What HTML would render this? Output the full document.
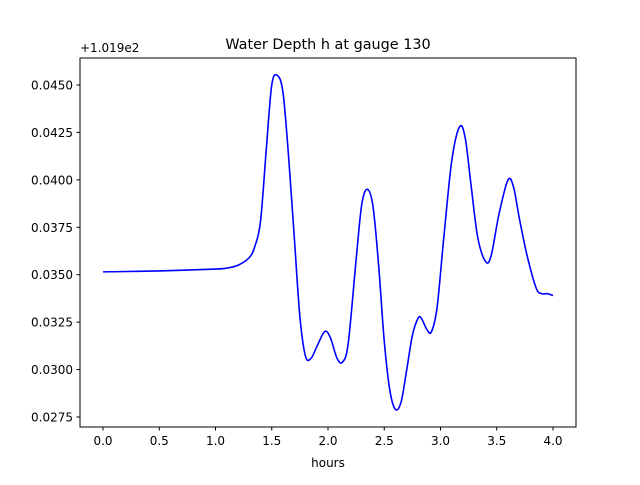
<!DOCTYPE html>
<html><head><meta charset="utf-8"><style>
body{margin:0;background:#fff;font-family:"Liberation Sans","DejaVu Sans",sans-serif;}
svg text{font-family:"DejaVu Sans","Liberation Sans",sans-serif;}
</style></head><body>
<svg id="chart" width="640" height="480" viewBox="0 0 640 480">
<rect width="640" height="480" fill="#fff"/>
<text x="328" y="49" font-size="14.4" text-anchor="middle">Water Depth h at gauge 130</text>
<text x="80" y="52" font-size="12">+1.019e2</text>
<g id="ticks"></g>
<path id="line" fill="none" stroke="#0000ff" stroke-width="1.6"/>
<rect x="80" y="58" width="496" height="369" fill="none" stroke="#000" stroke-width="1"/>
<text x="328" y="467" font-size="12" text-anchor="middle">hours</text>
</svg>
<script>
const xTicks=[0,0.5,1.0,1.5,2.0,2.5,3.0,3.5,4.0];
const xTickLabels=["0.0","0.5","1.0","1.5","2.0","2.5","3.0","3.5","4.0"];
const yTicks=[0.0275,0.0300,0.0325,0.0350,0.0375,0.0400,0.0425,0.0450];
const yTickLabels=["0.0275","0.0300","0.0325","0.0350","0.0375","0.0400","0.0425","0.0450"];
const hours=[0,0.5,1.0,1.1,1.2,1.3,1.35,1.4,1.45,1.5,1.55,1.6,1.65,1.7,1.75,1.8,1.85,1.9,1.97,2.02,2.08,2.13,2.18,2.25,2.3,2.35,2.4,2.45,2.5,2.55,2.6,2.65,2.7,2.75,2.8,2.83,2.88,2.92,2.97,3.03,3.1,3.17,3.22,3.27,3.33,3.4,3.45,3.52,3.6,3.65,3.7,3.77,3.85,3.9,3.95,4.0];
const depth=[0.03515,0.0352,0.0353,0.03535,0.0355,0.0359,0.0365,0.0378,0.0415,0.0450,0.0455,0.0446,0.0412,0.0370,0.0328,0.0307,0.0306,0.0312,0.0320,0.0317,0.0306,0.0304,0.0314,0.0358,0.0387,0.0395,0.0386,0.0355,0.0315,0.0289,0.0279,0.0283,0.0300,0.0318,0.0327,0.0327,0.0321,0.0320,0.0333,0.0370,0.0410,0.0428,0.0422,0.0398,0.0370,0.0357,0.0360,0.0382,0.0400,0.0396,0.0380,0.0360,0.0343,0.0340,0.0340,0.0339];
const X=v=>103+v*112.5;
const Y=v=>417-(v-0.0275)/0.0025*47.43;
const NS="http://www.w3.org/2000/svg";
const g=document.getElementById('ticks');
function mk(tag,attrs){const e=document.createElementNS(NS,tag);for(const k in attrs)e.setAttribute(k,attrs[k]);g.appendChild(e);return e;}
xTicks.forEach((v,i)=>{
 const l=mk('line',{x1:X(v),x2:X(v),y1:427,y2:430.5,stroke:'#000'});
 
 
 const t=mk('text',{x:X(v),y:445,'font-size':12,'text-anchor':'middle'});
 t.textContent=xTickLabels[i];
 
 
});
yTicks.forEach((v,i)=>{
 const l=mk('line',{x1:76.5,x2:80,y1:Y(v),y2:Y(v),stroke:'#000'});
 
 
 const t=mk('text',{x:73,y:Y(v)+4.5,'font-size':12,'text-anchor':'end'});
 t.textContent=yTickLabels[i];
 
 
});
// Catmull-Rom smooth path
const pts=hours.map((h,i)=>[X(h),Y(depth[i])]);
let d='M'+pts[0][0]+','+pts[0][1];
for(let i=0;i<pts.length-1;i++){
 const p0=pts[Math.max(0,i-1)],p1=pts[i],p2=pts[i+1],p3=pts[Math.min(pts.length-1,i+2)];
 const c1=[p1[0]+(p2[0]-p0[0])/6,p1[1]+(p2[1]-p0[1])/6];
 const c2=[p2[0]-(p3[0]-p1[0])/6,p2[1]-(p3[1]-p1[1])/6];
 d+=' C'+c1[0]+','+c1[1]+' '+c2[0]+','+c2[1]+' '+p2[0]+','+p2[1];
}
document.getElementById('line').setAttribute('d',d);
</script>
</body></html>
